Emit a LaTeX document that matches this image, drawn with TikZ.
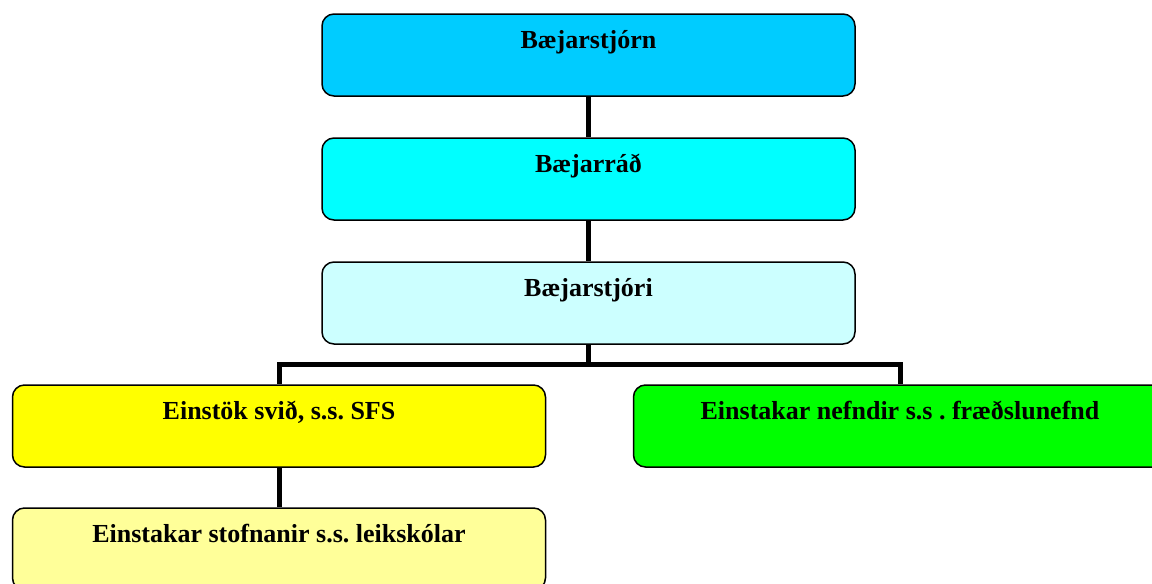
\documentclass[tikz,border=0pt]{standalone}
\usepackage{fontspec}
\setmainfont{Liberation Serif}
\frenchspacing
\definecolor{stjornblue}{HTML}{00CCFF}
\definecolor{radcyan}{HTML}{00FFFF}
\definecolor{stjoricyan}{HTML}{CCFFFF}
\definecolor{svidyellow}{HTML}{FFFF00}
\definecolor{nefndgreen}{HTML}{00FF00}
\definecolor{stofnyellow}{HTML}{FFFF99}

\begin{document}
\begin{tikzpicture}[x=1pt, y=1pt,
        orgbox/.style={draw, line width=1.5pt, rounded corners=12pt,
            minimum width=533pt, inner sep=0pt,
            text height=34pt, text depth=48pt,
            font=\fontsize{26}{30}\selectfont\bfseries},
        link/.style={line width=5pt}]
        \useasboundingbox (0,0) rectangle (1152,-584);
        \node [orgbox, fill=stjornblue] (stjorn) at (588.5,-55) {Bæjarstjórn};
        \node [orgbox, fill=radcyan] (rad) at (588.5,-179) {Bæjarráð};
        \node [orgbox, fill=stjoricyan] (stjori) at (588.5,-303) {Bæjarstjóri};
        \node [orgbox, fill=svidyellow] (svid) at (279,-426) {Einstök svið, s.s. SFS};
        \node [orgbox, fill=nefndgreen] (nefnd) at (900,-426) {Einstakar nefndir s.s . fræðslunefnd};
        \node [orgbox, fill=stofnyellow] (stofn) at (279,-549) {Einstakar stofnanir s.s. leikskólar};
        \coordinate (fork) at (588.5,-364);
        \draw [link] (stjorn) -- (rad);
        \draw [link] (rad) -- (stjori);
        \draw [link] (stjori) -- (fork);
        \draw [link] (fork) -| (svid.north);
        \draw [link] (fork) -| (nefnd.north);
        \draw [link] (svid) -- (stofn);
    \end{tikzpicture}
\end{document}
